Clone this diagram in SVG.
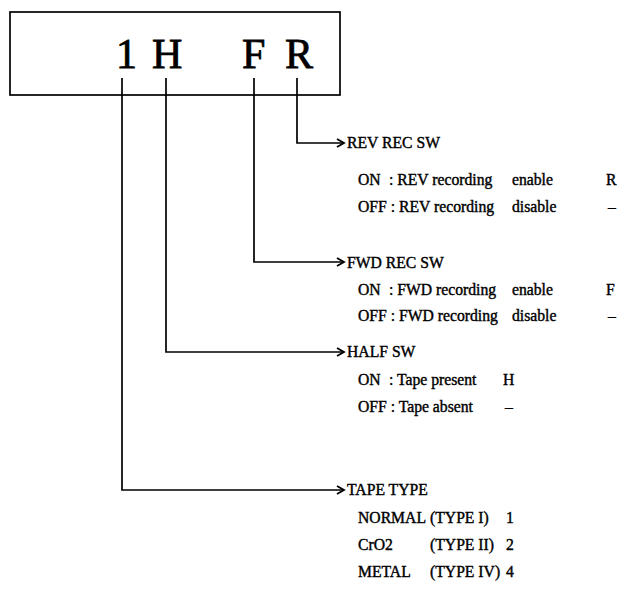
<svg xmlns="http://www.w3.org/2000/svg" width="624" height="601" viewBox="0 0 624 601">
<defs>
<marker id="arr" markerWidth="10" markerHeight="10" refX="8" refY="5" orient="auto" markerUnits="userSpaceOnUse">
<path d="M1,1 L8,5 L1,9" fill="none" stroke="#000" stroke-width="1.8"/>
</marker>
</defs>
<style>
.t{font-family:"Liberation Serif","Times New Roman",serif;font-size:15.7px;fill:#000;stroke:#000;stroke-width:0.4;}
.big{font-family:"Liberation Serif","Times New Roman",serif;font-size:42px;fill:#000;stroke:#000;stroke-width:0.8;}
.ln{fill:none;stroke:#000;stroke-width:1.7;}
</style>
<rect width="624" height="601" fill="#fff"/>
<g id="box">
<rect x="10" y="12" width="330" height="83" class="ln"/>
<text class="big" x="116" y="68">1</text>
<text class="big" x="152" y="68">H</text>
<text class="big" x="242" y="68">F</text>
<text class="big" x="285" y="68">R</text>
</g>
<g id="connectors">
<path class="ln" d="M297,78 V143 H344" marker-end="url(#arr)"/>
<path class="ln" d="M254,78 V262 H344" marker-end="url(#arr)"/>
<path class="ln" d="M166,78 V352 H344" marker-end="url(#arr)"/>
<path class="ln" d="M122,78 V490 H344" marker-end="url(#arr)"/>
</g>
<g id="rev">
<text class="t" x="347" y="148">REV REC SW</text>
<text class="t" x="358" y="185">ON</text><text class="t" x="389" y="185">: REV recording</text><text class="t" x="512" y="185">enable</text><text class="t" x="606" y="185">R</text>
<text class="t" x="358" y="212">OFF : REV recording</text><text class="t" x="512" y="212">disable</text><text class="t" x="608" y="212">–</text>
</g>
<g id="fwd">
<text class="t" x="347" y="268">FWD REC SW</text>
<text class="t" x="358" y="295">ON</text><text class="t" x="389" y="295">: FWD recording</text><text class="t" x="512" y="295">enable</text><text class="t" x="606" y="295">F</text>
<text class="t" x="358" y="321">OFF : FWD recording</text><text class="t" x="512" y="321">disable</text><text class="t" x="608" y="321">–</text>
</g>
<g id="half">
<text class="t" x="347" y="357">HALF SW</text>
<text class="t" x="358" y="385">ON</text><text class="t" x="389" y="385">: Tape present</text><text class="t" x="503" y="385">H</text>
<text class="t" x="358" y="412">OFF : Tape absent</text><text class="t" x="505" y="412">–</text>
</g>
<g id="tape">
<text class="t" x="347" y="495">TAPE TYPE</text>
<text class="t" x="358" y="523">NORMAL</text><text class="t" x="430" y="523">(TYPE I)</text><text class="t" x="506" y="523">1</text>
<text class="t" x="358" y="550">CrO2</text><text class="t" x="430" y="550">(TYPE II)</text><text class="t" x="506" y="550">2</text>
<text class="t" x="358" y="577">METAL</text><text class="t" x="430" y="577">(TYPE IV)</text><text class="t" x="506" y="577">4</text>
</g>
</svg>
